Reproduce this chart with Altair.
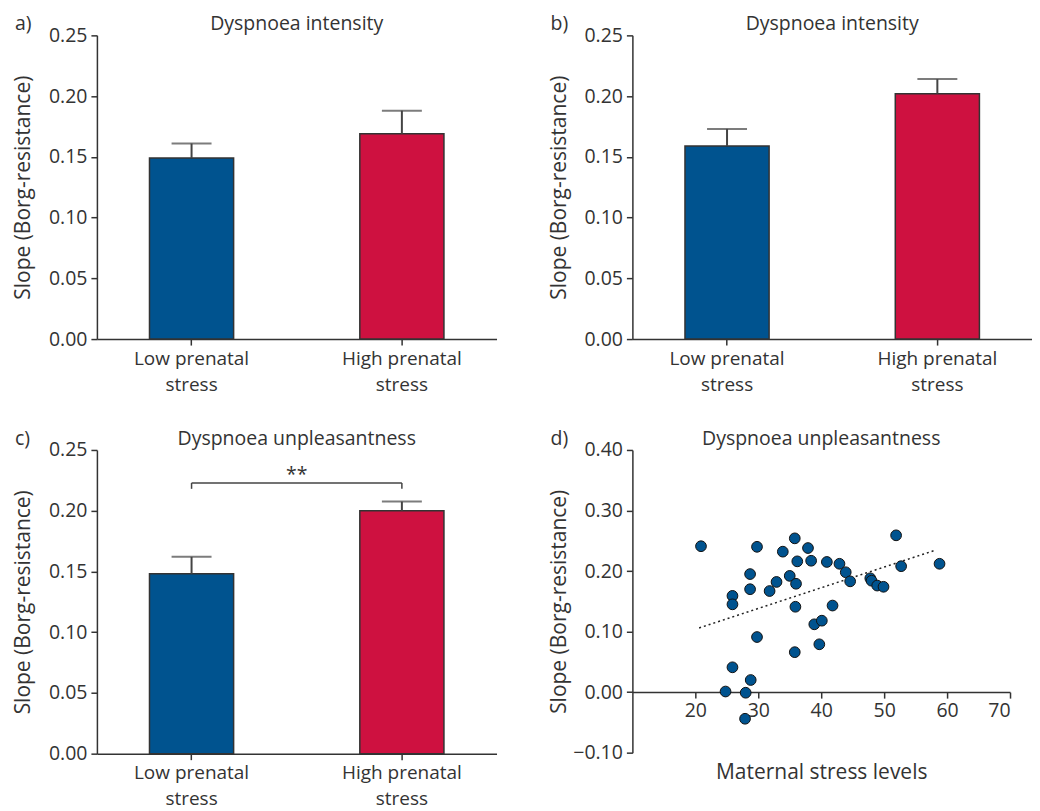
import altair as alt
import pandas as pd

# ---------------- data ----------------
groups = ["Low prenatal|stress", "High prenatal|stress"]

a_mean = [0.149, 0.169]
a_sem = [0.012, 0.019]
b_mean = [0.159, 0.202]
b_sem = [0.014, 0.012]
c_mean = [0.148, 0.200]
c_sem = [0.014, 0.0075]

bar_ticks = [0.0, 0.05, 0.10, 0.15, 0.20, 0.25]

stress = [20.9, 29.8, 35.8, 33.9, 37.9, 36.2, 38.4, 40.9, 42.9, 43.9, 44.6,
          47.8, 48.0, 48.9, 49.9, 51.9, 52.7, 58.8, 28.7, 35.0, 32.9, 36.0,
          31.8, 28.7, 25.9, 25.9, 35.9, 41.8, 38.9, 40.1, 29.8, 39.7, 35.8,
          25.9, 28.8, 24.8, 28.0, 27.9]
slope = [0.241, 0.240, 0.254, 0.232, 0.238, 0.216, 0.217, 0.215, 0.212, 0.198,
         0.183, 0.188, 0.184, 0.176, 0.174, 0.259, 0.208, 0.212, 0.195, 0.192,
         0.182, 0.179, 0.167, 0.170, 0.159, 0.145, 0.141, 0.143, 0.112, 0.118,
         0.091, 0.079, 0.066, 0.041, 0.020, 0.001, -0.001, -0.044]
fit_x = [20.6, 58.3]
fit_y = [0.106, 0.235]

d_xticks = [20, 30, 40, 50, 60, 70]
d_yticks = [-0.10, 0.0, 0.10, 0.20, 0.30, 0.40]

# ---------------- style ----------------
FONT = "Open Sans"
FS = 19.5
TFS = 21
BLUE = "#00538F"
RED = "#CE1140"
DARK = "#333333"
YTITLE = "Slope (Borg-resistance)"
W, H = 400, 304
DW, DH = 378, 303


def xenc(field):
    return alt.X(
        f"{field}:N",
        scale=alt.Scale(domain=groups, paddingInner=0.6, paddingOuter=0.25),
        axis=alt.Axis(title=None, labelAngle=0, labelExpr="split(datum.label, '|')",
                      labelLineHeight=26, labelFontSize=19, labelPadding=4,
                      tickSize=6),
    )


def yenc(field):
    return alt.Y(
        f"{field}:Q",
        scale=alt.Scale(domain=[0, 0.25], nice=False),
        axis=alt.Axis(values=bar_ticks, format=".2f", title=YTITLE, titleX=-63,
                      tickSize=6, labelPadding=4),
    )


def head_layers(letter, title, width):
    df = pd.DataFrame({"t": [letter], "h": [title]})
    lab = alt.Chart(df).mark_text(
        font=FONT, fontSize=FS, align="left", baseline="alphabetic", color=DARK
    ).encode(x=alt.value(-82), y=alt.value(-5), text="t:N")
    ttl = alt.Chart(df).mark_text(
        font=FONT, fontSize=FS, align="center", baseline="alphabetic", color=DARK
    ).encode(x=alt.value(width / 2), y=alt.value(-5), text="h:N")
    return [lab, ttl]


def bar_panel(title, letter, means, sems, sig=False):
    df = pd.DataFrame({
        "group": groups,
        "mean": means,
        "upper": [m + s for m, s in zip(means, sems)],
        "col": [BLUE, RED],
    })
    base = alt.Chart(df)
    bars = base.mark_bar(stroke=DARK, strokeWidth=1.5).encode(
        x=xenc("group"), y=yenc("mean"),
        color=alt.Color("col:N", scale=None),
    )
    stem = base.mark_rule(color="#444", strokeWidth=2).encode(
        x=xenc("group"), y=yenc("mean"), y2="upper:Q")
    cap = base.mark_tick(color="#444", thickness=2, size=40).encode(
        x=xenc("group"), y=yenc("upper"))
    layers = [bars, stem, cap] + head_layers(letter, title, W)
    if sig:
        br = pd.DataFrame({"x1": [groups[0]], "x2": [groups[1]], "y": [0.2228],
                           "s": ["**"]})
        ends = pd.DataFrame({"group": groups, "y": [0.2228, 0.2228],
                             "y2": [0.2180, 0.2180]})
        layers.append(alt.Chart(br).mark_rule(color="#444", strokeWidth=1.5).encode(
            x=xenc("x1"), x2="x2:N", y=yenc("y")))
        layers.append(alt.Chart(ends).mark_rule(color="#444", strokeWidth=1.5).encode(
            x=xenc("group"), y=yenc("y"), y2="y2:Q"))
        layers.append(alt.Chart(br).mark_text(
            font=FONT, fontSize=FS, color=DARK, baseline="alphabetic", dy=-2
        ).encode(x=alt.value(W / 2), y=yenc("y"), text="s:N"))
    return alt.layer(*layers).properties(width=W, height=H)


pa = bar_panel("Dyspnoea intensity", "a)", a_mean, a_sem)
pb = bar_panel("Dyspnoea intensity", "b)", b_mean, b_sem)
pc = bar_panel("Dyspnoea unpleasantness", "c)", c_mean, c_sem, sig=True)

# ---------------- panel d ----------------
sdf = pd.DataFrame({"stress": stress, "slope": slope})
fdf = pd.DataFrame({"stress": fit_x, "slope": fit_y})

dx = alt.X("stress:Q", scale=alt.Scale(domain=[10, 70], nice=False),
           axis=alt.Axis(values=d_xticks, title="Maternal stress levels",
                         offset=-DH * 0.2, tickSize=6, labelPadding=3,
                         titlePadding=42))
dy = alt.Y("slope:Q", scale=alt.Scale(domain=[-0.1, 0.4], nice=False),
           axis=alt.Axis(values=d_yticks, format=".2f", title=YTITLE, titleX=-63,
                         tickSize=6, labelPadding=4))

fit = alt.Chart(fdf).mark_line(color="#222", strokeDash=[2, 3], strokeWidth=1.5).encode(
    x=dx, y=dy)
pts = alt.Chart(sdf).mark_circle(color=BLUE, stroke="#111", strokeWidth=1,
                                 size=115, opacity=1).encode(x=dx, y=dy)
pd_ = alt.layer(fit, pts, *head_layers("d)", "Dyspnoea unpleasantness", DW)).properties(
    width=DW, height=DH,
)

row1 = alt.hconcat(pa, pb, spacing=52)
row2 = alt.hconcat(pc, pd_, spacing=52)

chart = alt.vconcat(row1, row2, spacing=35).properties(
    padding={"left": 5, "top": 6, "right": 0, "bottom": 0}
).configure_view(stroke=None).configure_axis(
    labelFont=FONT, labelFontSize=FS, labelColor=DARK,
    titleFont=FONT, titleFontSize=TFS, titleColor=DARK, titleFontWeight="normal",
    domainColor=DARK, tickColor=DARK, domainWidth=1.5, tickWidth=1.5, grid=False,
)

chart.save("out.html", embed_options={"renderer": "svg", "actions": False})
